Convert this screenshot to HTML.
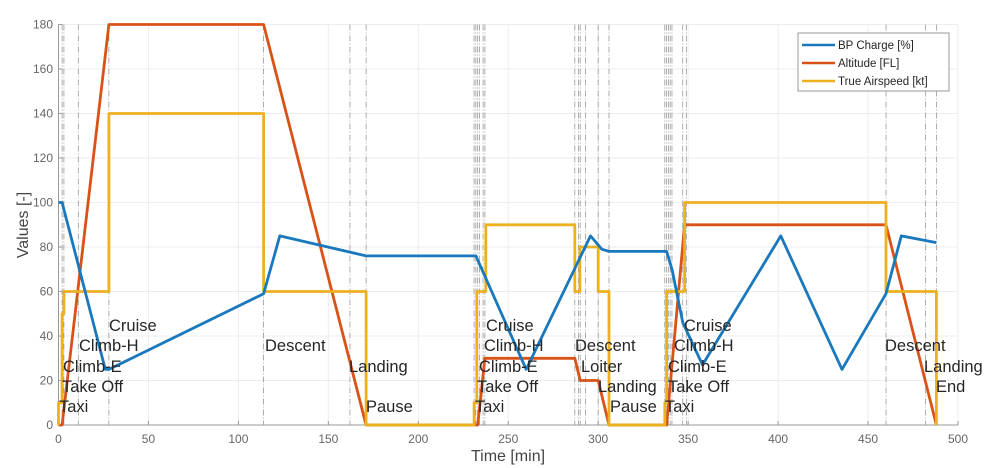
<!DOCTYPE html>
<html><head><meta charset="utf-8"><style>
html,body{margin:0;padding:0;background:#fff;}
svg{display:block;font-family:"Liberation Sans",sans-serif;}
</style></head><body>
<svg id="chart" width="1000" height="468" viewBox="0 0 1000 468"></svg>
<script>
const xTicks=[0,50,100,150,200,250,300,350,400,450,500];
const yTicks=[0,20,40,60,80,100,120,140,160,180];
const phaseLines=[2,3,11,28,114,162,171,231,232,233,234,236,237,287,289,290,293,300,306,337,338,339,340,341,347,349,460,482,488];
const bpT=[0,2,26,28,114,123,171,232,260,295.7,302,306,338,341,347,358,401.5,435.5,460,468.5,488];
const bpV=[100,100,25,25,59,85,76,76,25,85,79,78,78,70,46,27,85,25,59,85,82];
const altT=[0,2,28,114,171,233,237,287,290,300,306,338,348,460,488];
const altV=[0,0,180,180,0,0,30,30,20,20,0,0,90,90,0];
const tasT=[0,0,2,2,3,3,28,28,114,114,171,171,231,231,232.5,232.5,237.5,237.5,287,287,289.8,289.8,300,300,306,306,337,337,338,338,348,348,460,460,488,488];
const tasV=[0,10,10,50,50,60,60,140,140,60,60,0,0,10,10,60,60,90,90,60,60,80,80,60,60,0,0,10,10,60,60,100,100,60,60,0];
const labels=[["Taxi",59,412],["Take Off",62,392],["Climb-E",63,372],["Climb-H",79,351],["Cruise",109,331],["Descent",265,351],["Landing",349,372],["Pause",366,412],
["Cruise",486,331],["Climb-H",484,351],["Climb-E",479,372],["Take Off",477,392],["Taxi",475,412],["Descent",575,351],["Loiter",581,372],["Landing",598,392],["Pause",610,412],
["Taxi",665,412],["Take Off",668,392],["Climb-E",668,372],["Climb-H",674,351],["Cruise",684,331],["Descent",885,351],["Landing",924,372],["End",936,392]];
const NS="http://www.w3.org/2000/svg";
const svg=document.getElementById('chart');
const X0=58.5,X1=958,Y0=425,Y1=24.5;
const sx=t=>X0+(X1-X0)*t/500;
const sy=v=>Y0-(Y0-Y1)*v/180;
function mk(tag,attrs,parent){const e=document.createElementNS(NS,tag);for(const k in attrs)e.setAttribute(k,attrs[k]);(parent||svg).appendChild(e);return e;}
yTicks.forEach(v=>{const l=mk('line',{x1:X0,x2:X1,y1:sy(v),y2:sy(v),stroke:'#ededed','stroke-width':1});

});
xTicks.forEach(t=>{const l=mk('line',{x1:sx(t),x2:sx(t),y1:Y1,y2:Y0,stroke:'#ededed','stroke-width':1});

});
phaseLines.forEach(t=>{const l=mk('line',{x1:sx(t),x2:sx(t),y1:Y1,y2:Y0,stroke:'#999','stroke-width':0.8,'stroke-dasharray':'6 2 1 2'});

});
const ax=mk('path',{d:`M${X0},${Y1}V${Y0}H${X1}`,fill:'none',stroke:'#999','stroke-width':1});


xTicks.forEach(t=>{const tx=mk('text',{x:sx(t),y:443,'text-anchor':'middle','font-size':12,fill:'#666'});tx.textContent=t;


mk('line',{x1:sx(t),x2:sx(t),y1:Y0,y2:Y0-4,stroke:'#999'});});
yTicks.forEach(v=>{const tx=mk('text',{x:53,y:sy(v)+4,'text-anchor':'end','font-size':12,fill:'#666'});tx.textContent=v;


mk('line',{x1:X0,x2:X0+4,y1:sy(v),y2:sy(v),stroke:'#999'});});
function series(T,V,color,name){let d='';T.forEach((t,i)=>{d+=(i?'L':'M')+sx(t).toFixed(1)+','+sy(V[i]).toFixed(1);});
const p=mk('path',{d:d,fill:'none',stroke:color,'stroke-width':2.8,'stroke-linejoin':'round'});

}
series(altT,altV,'#d95319','altitude-line');
series(tasT,tasV,'#edb120','airspeed-line');
series(bpT,bpV,'#1a78bd','bp-charge-line');
labels.forEach(a=>{const tx=mk('text',{x:a[1],y:a[2],'font-size':16.5,fill:'#262626'});tx.textContent=a[0];

});
const xt=mk('text',{x:508,y:461,'text-anchor':'middle','font-size':16,fill:'#444'});xt.textContent='Time [min]';


const yt=mk('text',{x:0,y:0,'text-anchor':'middle','font-size':16,fill:'#444',transform:'translate(28,225) rotate(-90)'});yt.textContent='Values [-]';


const lg=mk('g',{});


mk('rect',{x:798,y:33,width:151,height:58,fill:'#fff',stroke:'#999','stroke-width':1},lg);
const legItems=[['BP Charge [%]','#1a78bd'],['Altitude [FL]','#d95319'],['True Airspeed [kt]','#edb120']];
legItems.forEach((it,i)=>{const y=45+i*18;
const g=mk('g',{},lg);


mk('line',{x1:802,x2:835,y1:y,y2:y,stroke:it[1],'stroke-width':2.4},g);
const tx=mk('text',{x:838,y:y+4,'font-size':11.5,fill:'#262626'},g);tx.textContent=it[0];});
</script>
</body></html>
